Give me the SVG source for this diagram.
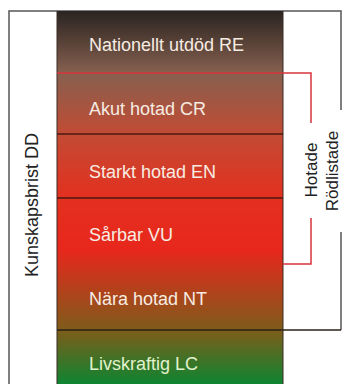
<svg xmlns="http://www.w3.org/2000/svg" width="343" height="384" viewBox="0 0 343 384">
<defs>
<linearGradient id="col" gradientUnits="userSpaceOnUse" x1="0" y1="11" x2="0" y2="384">
<stop offset="0" stop-color="#2a2421"/>
<stop offset="0.166" stop-color="#86604f"/>
<stop offset="0.33" stop-color="#c24b34"/>
<stop offset="0.5" stop-color="#e3301f"/>
<stop offset="0.64" stop-color="#e8271c"/>
<stop offset="0.855" stop-color="#7e5c1a"/>
<stop offset="1" stop-color="#0e8531"/>
</linearGradient>
<style>
.lbl{font-family:"Liberation Sans",Arial,sans-serif;font-size:18px;fill:#f6ece2}
.side{font-family:"Liberation Sans",Arial,sans-serif;font-size:17px;fill:#222;text-anchor:middle}
.frame{fill:none;stroke:#555;stroke-width:1.5}
.red{fill:none;stroke:#d8343c;stroke-width:1.5}
.div{stroke:#4a1810;stroke-width:1.5}
</style>
</defs>
<rect width="343" height="384" fill="#fff"/>
<g id="frame">
<path class="frame" d="M9,384 V11 H341 V110"/>
<path class="frame" d="M341,232 V330"/>
<text class="side" style="font-size:18px" transform="translate(38,205) rotate(-90)">Kunskapsbrist DD</text>
</g>
<g id="column">
<rect x="57" y="11" width="226" height="373" fill="url(#col)"/>
<line x1="57" y1="11" x2="57" y2="384" stroke="#3a2a22" stroke-width="1"/>
<line x1="283" y1="11" x2="283" y2="384" stroke="#3a2a22" stroke-width="1"/>
</g>
<g id="RE"><text class="lbl" x="89" y="51">Nationellt utdöd RE</text></g>
<g id="CR"><text class="lbl" x="89" y="115">Akut hotad CR</text></g>
<g id="EN"><text class="lbl" x="89" y="178">Starkt hotad EN</text></g>
<g id="VU"><text class="lbl" x="89" y="241">Sårbar VU</text></g>
<g id="NT"><text class="lbl" x="89" y="305">Nära hotad NT</text></g>
<g id="LC"><text class="lbl" x="89" y="370" style="fill:#e2f2cc">Livskraftig LC</text></g>
<g id="connectors">
<line class="div" x1="57" y1="134" x2="283" y2="134"/>
<line class="div" x1="57" y1="198" x2="283" y2="198"/>
<line x1="57" y1="330" x2="341" y2="330" stroke="#2a2218" stroke-width="1.5"/>
<path class="red" d="M57,73 H311 V123"/>
<path class="red" d="M311,218 V264 H283"/>
</g>
<g id="hotade"><text class="side" transform="translate(317,170) rotate(-90)">Hotade</text></g>
<g id="rodlistade"><text class="side" transform="translate(338,171) rotate(-90)">Rödlistade</text></g>
</svg>
